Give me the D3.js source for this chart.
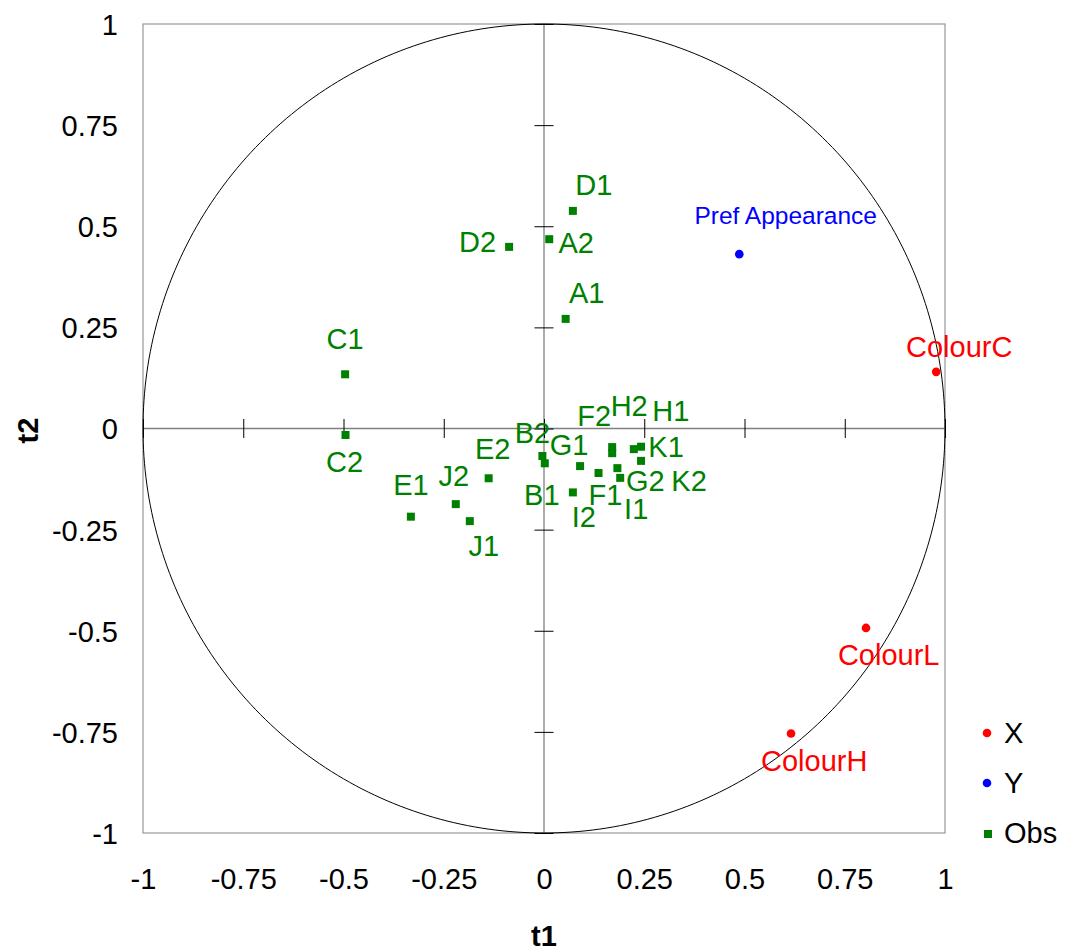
<!DOCTYPE html>
<html><head><meta charset="utf-8">
<script src="https://cdn.jsdelivr.net/npm/d3@7"></script>
<style>body{margin:0;background:#fff}svg{display:block;font-family:"Liberation Sans",Arial,sans-serif}</style>
</head><body><svg id="c" width="1065" height="951"></svg>
<script>
// ---- data ----
const obsNames = ["A1","A2","B1","B2","C1","C2","D1","D2","E1","E2","F1","F2","G1","G2","H1","H2","I1","I2","J1","J2","K1","K2"];
const obsT1 = [0.054,0.013,0.002,-0.004,-0.496,-0.495,0.072,-0.087,-0.332,-0.138,0.136,0.170,0.090,0.183,0.224,0.170,0.190,0.072,-0.185,-0.220,0.242,0.242];
const obsT2 = [0.271,0.468,-0.086,-0.068,0.134,-0.016,0.538,0.449,-0.218,-0.123,-0.110,-0.046,-0.093,-0.098,-0.051,-0.061,-0.122,-0.158,-0.229,-0.187,-0.045,-0.080];
const xVarNames = ["ColourC","ColourL","ColourH"];
const xVarT1 = [0.978,0.803,0.616];
const xVarT2 = [0.140,-0.493,-0.754];
const yVarNames = ["Pref Appearance"];
const yVarT1 = [0.487];
const yVarT2 = [0.431];
const tickValues = [-1,-0.75,-0.5,-0.25,0,0.25,0.5,0.75,1];
const tickLabels = ["-1","-0.75","-0.5","-0.25","0","0.25","0.5","0.75","1"];
const legendNames = ["X","Y","Obs"];

// ---- layout (label offsets in px relative to marker) ----
const labelOffset = {
  A1:[21,-26],A2:[27,3],B1:[-3,31],B2:[-10,-23.5],C1:[0,-35.5],C2:[-1,27],D1:[21,-26],D2:[-31.5,-5.5],
  E1:[0,-32.5],E2:[4,-29.5],F1:[7,22],F2:[-18,-32],G1:[-11,-22],G2:[28,12.5],H1:[37,-38.5],H2:[17,-48],
  I1:[16,31],I2:[11,24],J1:[14,24],J2:[-2,-29],K1:[25,0],K2:[48,20],
  ColourC:[23,-25.3],ColourL:[22.7,26.2],ColourH:[23.2,26.7],"Pref Appearance":[46.4,-38.5]
};

const svg = d3.select("#c");
const x = d3.scaleLinear().domain([-1,1]).range([143,945]);
const y = d3.scaleLinear().domain([-1,1]).range([833,24]);
const green="#008000", red="#ff0000", blue="#0000ff";

// frame
svg.append("rect").attr("x",x(-1)).attr("y",y(1)).attr("width",x(1)-x(-1)).attr("height",y(-1)-y(1))
  .attr("fill","none").attr("stroke","#a0a0a0").attr("stroke-width",1.3);

// zero axes
svg.append("line").attr("x1",x(-1)).attr("x2",x(1)).attr("y1",y(0)).attr("y2",y(0)).attr("stroke","#808080").attr("stroke-width",1.3);
svg.append("line").attr("x1",x(0)).attr("x2",x(0)).attr("y1",y(1)).attr("y2",y(-1)).attr("stroke","#808080").attr("stroke-width",1.3);

// cross ticks via d3 axes
const gx = svg.append("g").attr("transform",`translate(0,${y(0)-9.5})`)
  .call(d3.axisBottom(x).tickValues(tickValues).tickSize(19).tickFormat(""));
gx.select(".domain").remove();
gx.selectAll("line").attr("stroke","#000");
const gy = svg.append("g").attr("transform",`translate(${x(0)-9.5},0)`)
  .call(d3.axisRight(y).tickValues(tickValues).tickSize(19).tickFormat(""));
gy.select(".domain").remove();
gy.selectAll("line").attr("stroke","#000");

// tick labels
const lx = svg.append("g").attr("transform",`translate(0,889)`)
  .call(d3.axisBottom(x).tickValues(tickValues).tickSize(0).tickFormat((d,i)=>tickLabels[i]));
lx.select(".domain").remove();
lx.selectAll("text").attr("y",0).attr("dy",0).attr("font-size",29).attr("fill","#000").attr("font-family","Liberation Sans, Arial, sans-serif");
const ly = svg.append("g").attr("transform",`translate(118,0)`)
  .call(d3.axisLeft(y).tickValues(tickValues).tickSize(0).tickFormat((d,i)=>tickLabels[i]));
ly.select(".domain").remove();
ly.selectAll("text").attr("x",0).attr("dy","0.36em").attr("font-size",29).attr("fill","#000").attr("font-family","Liberation Sans, Arial, sans-serif");

// axis titles
svg.append("text").attr("x",x(0)).attr("y",946).attr("text-anchor","middle").attr("font-size",29).attr("font-weight","bold").text("t1");
svg.append("text").attr("transform",`translate(38,${y(0)+2}) rotate(-90)`).attr("text-anchor","middle").attr("font-size",29).attr("font-weight","bold").text("t2");

// correlation circle
const circ = d3.range(0,361,1).map(a=>[Math.cos(a*Math.PI/180),Math.sin(a*Math.PI/180)]);
svg.append("path").attr("d",d3.line().x(d=>x(d[0])).y(d=>y(d[1]))(circ))
  .attr("fill","none").attr("stroke","#000").attr("stroke-width",1);

// observations
const obs = obsNames.map((n,i)=>({n,t1:obsT1[i],t2:obsT2[i]}));
svg.append("g").selectAll("rect").data(obs).join("rect")
  .attr("x",d=>x(d.t1)-4).attr("y",d=>y(d.t2)-4).attr("width",8).attr("height",8).attr("fill",green);
svg.append("g").selectAll("text").data(obs).join("text")
  .attr("x",d=>x(d.t1)+labelOffset[d.n][0]).attr("y",d=>y(d.t2)+labelOffset[d.n][1])
  .attr("dy","0.36em").attr("text-anchor","middle").attr("font-size",29).attr("fill",green).text(d=>d.n);

// X variables
const xv = xVarNames.map((n,i)=>({n,t1:xVarT1[i],t2:xVarT2[i]}));
svg.append("g").selectAll("circle").data(xv).join("circle")
  .attr("cx",d=>x(d.t1)).attr("cy",d=>y(d.t2)).attr("r",4.3).attr("fill",red);
svg.append("g").selectAll("text").data(xv).join("text")
  .attr("x",d=>x(d.t1)+labelOffset[d.n][0]).attr("y",d=>y(d.t2)+labelOffset[d.n][1])
  .attr("dy","0.36em").attr("text-anchor","middle").attr("font-size",29).attr("fill",red).text(d=>d.n);

// Y variables
const yv = yVarNames.map((n,i)=>({n,t1:yVarT1[i],t2:yVarT2[i]}));
svg.append("g").selectAll("circle").data(yv).join("circle")
  .attr("cx",d=>x(d.t1)).attr("cy",d=>y(d.t2)).attr("r",4.3).attr("fill",blue);
svg.append("g").selectAll("text").data(yv).join("text")
  .attr("x",d=>x(d.t1)+labelOffset[d.n][0]).attr("y",d=>y(d.t2)+labelOffset[d.n][1])
  .attr("dy","0.36em").attr("text-anchor","middle").attr("font-size",24.5).attr("fill",blue).text(d=>d.n);

// legend
const legColors=[red,blue,green];
const leg = svg.append("g");
legendNames.forEach((n,i)=>{
  const cy = 733 + i*50;
  if(i<2) leg.append("circle").attr("cx",987).attr("cy",cy).attr("r",4.3).attr("fill",legColors[i]);
  else leg.append("rect").attr("x",984).attr("y",cy-3).attr("width",8).attr("height",8).attr("fill",legColors[i]);
  leg.append("text").attr("x",1004).attr("y",cy).attr("dy","0.36em").attr("font-size",29).attr("fill","#000").text(n);
});
</script></body></html>
